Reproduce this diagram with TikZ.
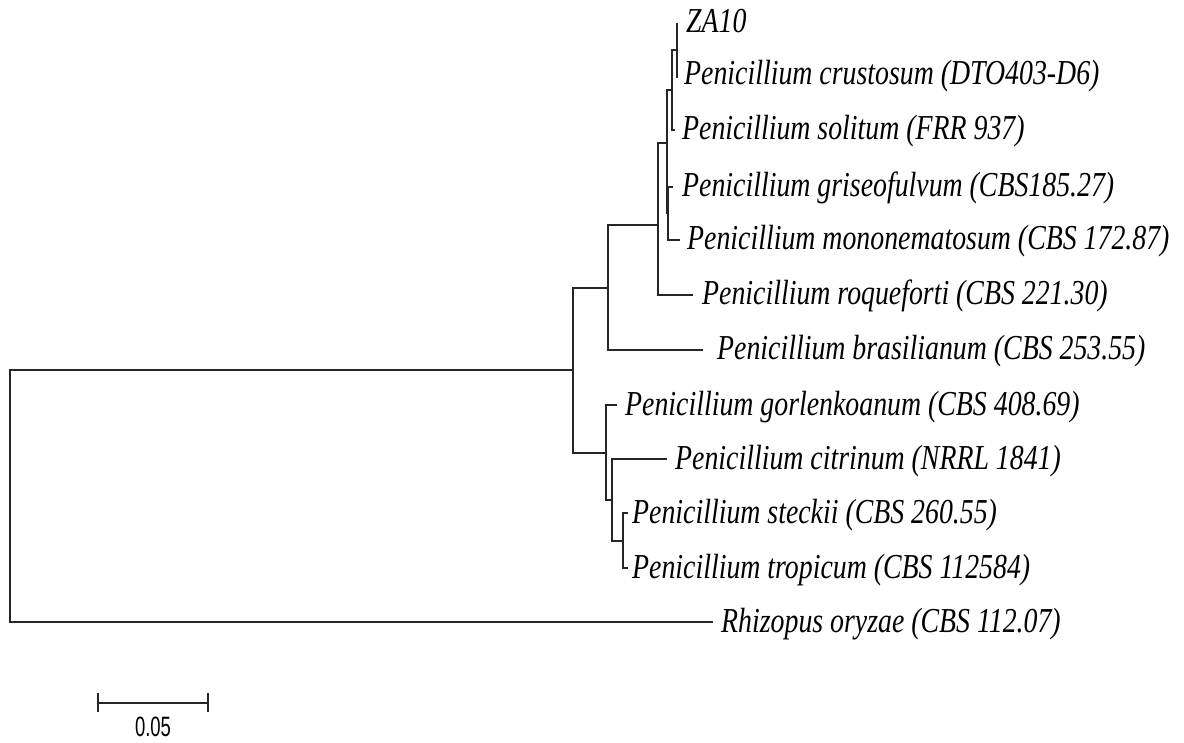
\documentclass[tikz,border=0pt]{standalone}
\usepackage{fontspec}
\setmainfont{Liberation Serif}
\newfontfamily\barfont{Liberation Sans}
\newcommand\taxlab[1]{\scalebox{0.795}[1]{\itshape #1}}
\begin{document}
\begin{tikzpicture}[x=1pt,y=-1pt,
  branch/.style={line width=2pt, color=black!85, line join=miter},
  tiplabel/.style={anchor=base west, inner sep=0pt, font=\fontsize{35}{38}\selectfont},
  barlabel/.style={anchor=base, inner sep=0pt, font=\barfont\fontsize{28}{30}\selectfont}]
\useasboundingbox (0,0) rectangle (1184,743);
% internal nodes
\coordinate (R) at (10,496);
\coordinate (G) at (573,370);
\coordinate (F) at (608,288);
\coordinate (A) at (658,225);
\coordinate (B) at (667,143);
\coordinate (C) at (672,90);
\coordinate (E) at (677,50);
\coordinate (D) at (668,213);
\coordinate (H) at (606,453);
\coordinate (I) at (612,500);
\coordinate (J) at (623,541);
% tips
\coordinate (t1) at (677,23);
\coordinate (t2) at (678,77);
\coordinate (t3) at (675,130);
\coordinate (t4) at (673,187);
\coordinate (t5) at (680,240);
\coordinate (t6) at (693,295);
\coordinate (t7) at (703,350);
\coordinate (t8) at (617,405);
\coordinate (t9) at (667,459);
\coordinate (t10) at (628,513);
\coordinate (t11) at (628,568);
\coordinate (t12) at (713,622);
% branches
\draw[branch] (R) |- (G);
\draw[branch] (R) |- (t12);
\draw[branch] (G) |- (F);
\draw[branch] (G) |- (H);
\draw[branch] (F) |- (A);
\draw[branch] (F) |- (t7);
\draw[branch] (A) |- (B);
\draw[branch] (A) |- (t6);
\draw[branch] (B) |- (C);
\draw[branch] (B) |- (D);
\draw[branch] (C) |- (E);
\draw[branch] (C) |- (t3);
\draw[branch] (E) |- (t1);
\draw[branch] (E) |- (t2);
\draw[branch] (D) |- (t4);
\draw[branch] (D) |- (t5);
\draw[branch] (H) |- (t8);
\draw[branch] (H) |- (I);
\draw[branch] (I) |- (t9);
\draw[branch] (I) |- (J);
\draw[branch] (J) |- (t10);
\draw[branch] (J) |- (t11);
% labels
\node[tiplabel] (l1) at ([shift={(9,10)}]t1) {\taxlab{ZA10}};
\node[tiplabel] (l2) at ([shift={(6,8)}]t2) {\taxlab{Penicillium crustosum (DTO403-D6)}};
\node[tiplabel] (l3) at ([shift={(7,10)}]t3) {\taxlab{Penicillium solitum (FRR 937)}};
\node[tiplabel] (l4) at ([shift={(9,10)}]t4) {\taxlab{Penicillium griseofulvum (CBS185.27)}};
\node[tiplabel] (l5) at ([shift={(7,10)}]t5) {\taxlab{Penicillium mononematosum (CBS 172.87)}};
\node[tiplabel] (l6) at ([shift={(9,10)}]t6) {\taxlab{Penicillium roqueforti (CBS 221.30)}};
\node[tiplabel] (l7) at ([shift={(14,10)}]t7) {\taxlab{Penicillium brasilianum (CBS 253.55)}};
\node[tiplabel] (l8) at ([shift={(8,10)}]t8) {\taxlab{Penicillium gorlenkoanum (CBS 408.69)}};
\node[tiplabel] (l9) at ([shift={(8,10)}]t9) {\taxlab{Penicillium citrinum (NRRL 1841)}};
\node[tiplabel] (l10) at ([shift={(4,10)}]t10) {\taxlab{Penicillium steckii (CBS 260.55)}};
\node[tiplabel] (l11) at ([shift={(4,10)}]t11) {\taxlab{Penicillium tropicum (CBS 112584)}};
\node[tiplabel] (l12) at ([shift={(8,10)}]t12) {\taxlab{Rhizopus oryzae (CBS 112.07)}};
% scale bar
\coordinate (sb1) at (98,703);
\coordinate (sb2) at (208,703);
\draw[branch] (sb1) -- (sb2);
\draw[branch] ([shift={(0,-10)}]sb1) -- ([shift={(0,9)}]sb1);
\draw[branch] ([shift={(0,-10)}]sb2) -- ([shift={(0,9)}]sb2);
\node[barlabel] (sblab) at (153,736) {\scalebox{0.66}[1]{0.05}};
\end{tikzpicture}
\end{document}
